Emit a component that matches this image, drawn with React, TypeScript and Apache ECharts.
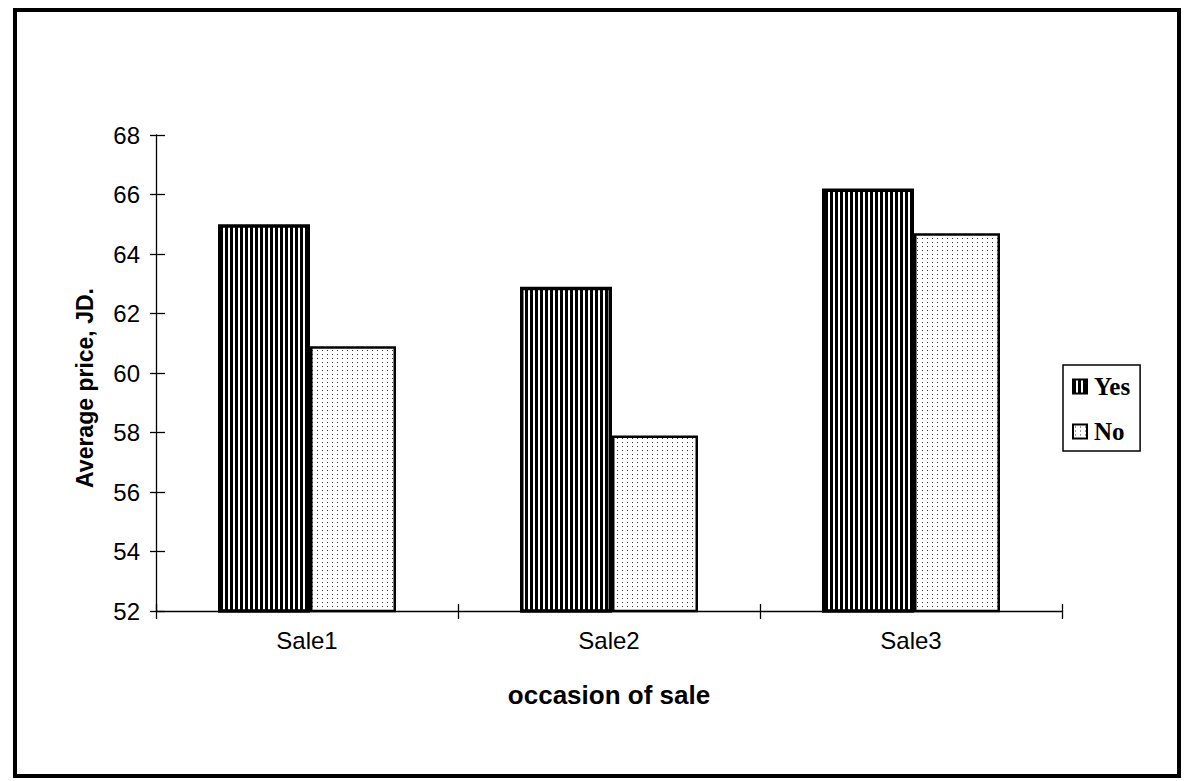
import React, { useEffect, useRef } from "react";
import * as echarts from "echarts";

const categories = ["Sale1", "Sale2", "Sale3"];
const yesValues = [65.0, 62.9, 66.2];
const noValues = [60.9, 57.9, 64.7];
const yMin = 52;
const yMax = 68;
const yInterval = 2;

function makePattern(kind: "stripes" | "dots"): string {
  const c = document.createElement("canvas");
  const ctx = c.getContext("2d")!;
  if (kind === "stripes") {
    c.width = 5;
    c.height = 5;
    ctx.fillStyle = "#fff";
    ctx.fillRect(0, 0, 5, 5);
    ctx.fillStyle = "#000";
    ctx.fillRect(0, 0, 3, 5);
  } else {
    c.width = 5;
    c.height = 4;
    ctx.fillStyle = "#fff";
    ctx.fillRect(0, 0, 5, 4);
    ctx.fillStyle = "#333";
    ctx.fillRect(2, 2, 1, 1);
  }
  return c.toDataURL();
}

export default function App() {
  const ref = useRef<HTMLDivElement>(null);
  useEffect(() => {
    if (!ref.current) return;
    const chart = echarts.init(ref.current, null, { renderer: "svg" });
    const stripes = { image: makePattern("stripes"), repeat: "repeat" };
    const dots = { image: makePattern("dots"), repeat: "repeat" };
    const sans = "Liberation Sans";
    chart.setOption({
      animation: false,
      backgroundColor: "#fff",
      grid: { left: 156, top: 135, width: 906, height: 476, containLabel: false },
      legend: {
        orient: "vertical",
        left: 1063,
        top: 365,
        padding: [9, 10, 7, 9],
        itemGap: 20,
        itemWidth: 14,
        itemHeight: 14,
        borderColor: "#000",
        borderWidth: 1.5,
        backgroundColor: "#fff",
        icon: "rect",
        textStyle: { fontFamily: "Liberation Serif", fontWeight: "bold", fontSize: 25, color: "#000", padding: [0, 0, 0, 2], lineHeight: 24 },
        data: ["Yes", "No"],
      },
      xAxis: [
        {
          type: "category",
          data: categories,
          boundaryGap: true,
          axisLine: { lineStyle: { color: "#000", width: 1.3 } },
          axisTick: { show: true, length: 8, lineStyle: { color: "#000", width: 1.3 } },
          axisLabel: { fontFamily: sans, fontSize: 24, color: "#000", margin: 17 },
          name: "occasion of sale",
          nameLocation: "middle",
          nameGap: 71,
          nameTextStyle: { fontFamily: sans, fontWeight: "bold", fontSize: 26, color: "#000" },
        },
        {
          type: "category",
          data: categories,
          position: "bottom",
          boundaryGap: true,
          axisLine: { show: false },
          axisTick: { show: true, inside: true, length: 7, lineStyle: { color: "#000", width: 1.3 } },
          axisLabel: { show: false },
        },
      ],
      yAxis: [
        {
          type: "value",
          min: yMin,
          max: yMax,
          interval: yInterval,
          splitLine: { show: false },
          axisLine: { show: true, lineStyle: { color: "#000", width: 1.3 } },
          axisTick: { show: true, length: 6, lineStyle: { color: "#000", width: 1.3 } },
          axisLabel: { fontFamily: sans, fontSize: 24, color: "#000", margin: 16 },
        },
        {
          type: "value",
          min: yMin,
          max: yMax,
          interval: yInterval,
          position: "left",
          splitLine: { show: false },
          axisLine: { show: false },
          axisTick: { show: true, inside: true, length: 9, lineStyle: { color: "#000", width: 1.3 } },
          axisLabel: { show: false },
        },
      ],
      series: [
        {
          name: "Yes",
          type: "bar",
          data: yesValues,
          barWidth: 92,
          barGap: "0%",
          itemStyle: { color: stripes, borderColor: "#000", borderWidth: 3.5 },
        },
        {
          name: "No",
          type: "bar",
          data: noValues,
          barWidth: 86,
          barGap: "0%",
          itemStyle: { color: dots, borderColor: "#000", borderWidth: 2.5 },
        },
      ],
      graphic: [
        {
          type: "text",
          x: 85,
          y: 388,
          rotation: Math.PI / 2,
          style: {
            text: "Average price, JD.",
            fontFamily: sans,
            fontWeight: "bold",
            fontSize: 23,
            fill: "#000",
            align: "center",
            verticalAlign: "middle",
          },
        },
        {
          type: "rect",
          shape: { x: 15, y: 10, width: 1164, height: 766 },
          style: { fill: "none", stroke: "#000", lineWidth: 4 },
          z: 100,
        },
      ],
    });
    return () => chart.dispose();
  }, []);
  return (
    <div
      ref={ref}
      style={{ position: "fixed", left: 0, top: 0, width: 1192, height: 781 }}
    />
  );
}
